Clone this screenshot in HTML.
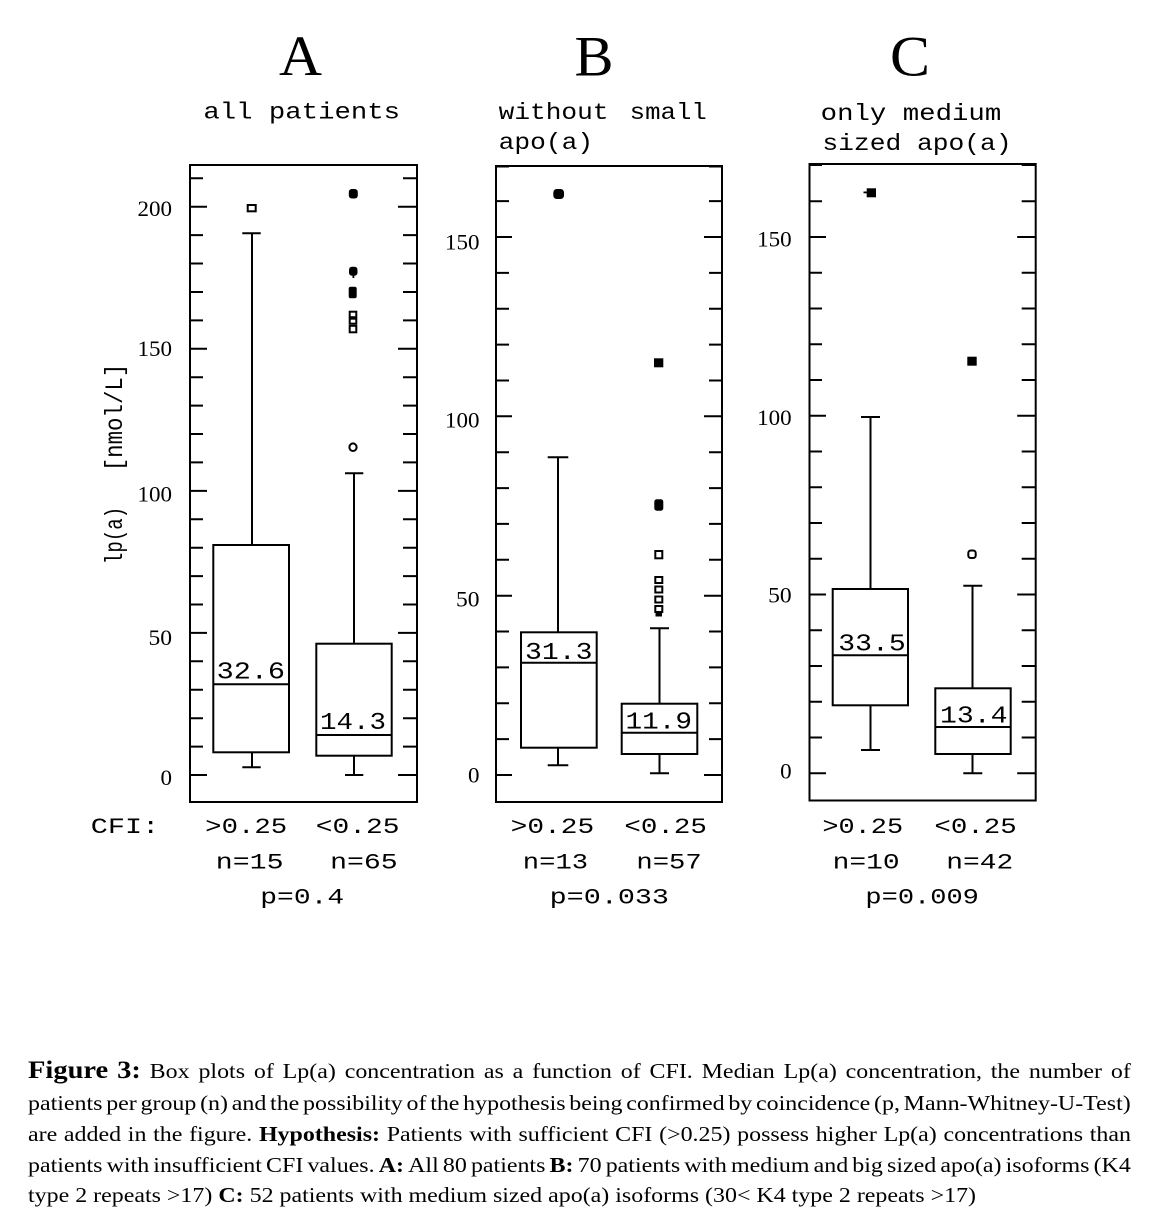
<!DOCTYPE html>
<html>
<head>
<meta charset="utf-8">
<style>
html,body{margin:0;padding:0;background:#fff;}
body{width:1164px;height:1228px;position:relative;overflow:hidden;}
svg{position:absolute;left:0;top:0;}
.mono{font-family:"Liberation Mono","DejaVu Sans Mono",monospace;fill:#000;}
.ser{font-family:"Liberation Serif","DejaVu Serif",serif;fill:#000;}
.ln{position:absolute;left:28px;width:967.5px;display:flex;justify-content:space-between;align-items:baseline;transform:scaleX(1.14);transform-origin:0 0;font-family:"Liberation Serif","DejaVu Serif",serif;font-size:21px;line-height:24px;white-space:nowrap;color:#000;}
.ln span{display:block;}
.ln .b{font-weight:bold;}
.ln .fig{font-weight:bold;font-size:25px;}
.l5{position:absolute;left:28px;transform:scaleX(1.14);transform-origin:0 0;font-family:"Liberation Serif","DejaVu Serif",serif;font-size:21px;line-height:24px;white-space:nowrap;color:#000;}
</style>
</head>
<body>
<svg width="1164" height="1228" viewBox="0 0 1164 1228" xmlns="http://www.w3.org/2000/svg">
<g fill="none" stroke="#000" stroke-width="2">
  <rect x="190" y="165" width="227" height="637"/>
  <rect x="496" y="166" width="226" height="636"/>
  <rect x="809.5" y="164" width="226.2" height="636.5"/>
  <path d="M190 775h17M190 746.6h13M190 718.2h13M190 689.8h13M190 661.3h13M190 632.9h17M190 604.5h13M190 576.1h13M190 547.7h13M190 519.3h13M190 490.9h17M190 462.4h13M190 434h13M190 405.6h13M190 377.2h13M190 348.8h17M190 320.4h13M190 292h13M190 263.5h13M190 235.1h13M190 206.7h17M190 178.3h13"/>
  <path d="M417 775h-19M417 746.6h-14M417 718.2h-14M417 689.8h-14M417 661.3h-14M417 632.9h-19M417 604.5h-14M417 576.1h-14M417 547.7h-14M417 519.3h-14M417 490.9h-19M417 462.4h-14M417 434h-14M417 405.6h-14M417 377.2h-14M417 348.8h-19M417 320.4h-14M417 292h-14M417 263.5h-14M417 235.1h-14M417 206.7h-19M417 178.3h-14"/>
  <path d="M496 775h16M496 739.1h13M496 703.3h13M496 667.4h13M496 631.5h13M496 595.7h16M496 559.8h13M496 523.9h13M496 488.1h13M496 452.2h13M496 416.3h16M496 380.5h13M496 344.6h13M496 308.7h13M496 272.9h13M496 237h16M496 201.1h13M496 166.5h13"/>
  <path d="M722 775h-18M722 739.1h-13M722 703.3h-13M722 667.4h-13M722 631.5h-13M722 595.7h-18M722 559.8h-13M722 523.9h-13M722 488.1h-13M722 452.2h-13M722 416.3h-18M722 380.5h-13M722 344.6h-13M722 308.7h-13M722 272.9h-13M722 237h-18M722 201.1h-13M722 166.5h-13"/>
  <path d="M809.5 773.3h16.5M809.5 737.5h12.5M809.5 701.8h12.5M809.5 666h12.5M809.5 630.3h12.5M809.5 594.5h16.5M809.5 558.8h12.5M809.5 523h12.5M809.5 487.3h12.5M809.5 451.5h12.5M809.5 415.8h16.5M809.5 380h12.5M809.5 344.3h12.5M809.5 308.5h12.5M809.5 272.8h12.5M809.5 237h16.5M809.5 201.3h12.5M809.5 165h12.5"/>
  <path d="M1035.7 773.3h-18.5M1035.7 737.5h-14M1035.7 701.8h-14M1035.7 666h-14M1035.7 630.3h-14M1035.7 594.5h-18.5M1035.7 558.8h-14M1035.7 523h-14M1035.7 487.3h-14M1035.7 451.5h-14M1035.7 415.8h-18.5M1035.7 380h-14M1035.7 344.3h-14M1035.7 308.5h-14M1035.7 272.8h-14M1035.7 237h-18.5M1035.7 201.3h-14M1035.7 165h-14"/>

  <rect x="213.3" y="545" width="75.7" height="207.3"/>
  <path d="M213.3 684.3H289M252 545V233.3M242.3 233.3H260.7M252 752.3V767.3M242.3 767.3H260.7"/>
  <rect x="316.3" y="643.7" width="75.4" height="112"/>
  <path d="M316.3 735H391.7M354 643.7V473.3M345 473.3H363.3M354 755.7V775M345 775H363.3"/>
  <rect x="521" y="632.3" width="75.7" height="115.4"/>
  <path d="M521 662.7H596.7M558 632.3V457.3M547.7 457.3H568.3M558 747.7V765.3M547.7 765.3H568.3"/>
  <rect x="621.7" y="703.7" width="75.6" height="50.3"/>
  <path d="M621.7 732.7H697.3M659.5 703.7V628.3M650 628.3H669M659.5 754V773.3M650 773.3H669"/>
  <rect x="832.7" y="589" width="75.3" height="116.3"/>
  <path d="M832.7 655.3H908M870.5 589V417M861 417H880M870.5 705.3V750M861 750H880"/>
  <rect x="935.3" y="688.3" width="75.4" height="65.7"/>
  <path d="M935.3 727H1010.7M972.5 688.3V585.7M963.3 585.7H982.3M972.5 754V773.3M963.3 773.3H982.3"/>

  <rect x="247.7" y="205" width="8" height="6.3"/>
  <rect x="349.7" y="311.7" width="6.6" height="5.5"/>
  <rect x="349.7" y="318.7" width="6.6" height="5"/>
  <rect x="349.7" y="325.8" width="6.6" height="6.5"/>
  <ellipse cx="353" cy="447.2" rx="3.6" ry="3.8"/>
  <rect x="655.3" y="551" width="7" height="7.3"/>
  <rect x="655.3" y="577" width="7" height="6"/>
  <rect x="655.3" y="586.5" width="7" height="6"/>
  <rect x="655.3" y="596.5" width="7" height="6"/>
  <rect x="655.3" y="606" width="7" height="6"/>
  <rect x="968.3" y="550.5" width="7.4" height="7.5" rx="2.5"/>
</g>
<g fill="#000">
  <rect x="348.8" y="189" width="9" height="9.5" rx="3"/>
  <rect x="349" y="266.8" width="8.5" height="9" rx="3"/>
  <rect x="352.5" y="275" width="1.8" height="3"/>
  <rect x="348.7" y="286.7" width="8" height="11.6" rx="2"/>
  <rect x="553.3" y="189" width="10.7" height="10" rx="3.5"/>
  <rect x="654" y="358.3" width="9.3" height="9"/>
  <rect x="654.3" y="499.3" width="9" height="11.4" rx="2.5"/>
  <rect x="655.5" y="611" width="6.5" height="5.5"/>
  <rect x="866.7" y="188.3" width="9.3" height="9"/>
  <rect x="863.5" y="191.5" width="4" height="1.8"/>
  <rect x="967.3" y="356.7" width="9.4" height="9"/>
</g>

<text class="ser" x="279" y="75" font-size="57" textLength="43" lengthAdjust="spacingAndGlyphs">A</text>
<text class="ser" x="574.5" y="75.5" font-size="57" textLength="39" lengthAdjust="spacingAndGlyphs">B</text>
<text class="ser" x="890" y="75.5" font-size="57" textLength="40" lengthAdjust="spacingAndGlyphs">C</text>

<text class="mono" x="203.4" y="118.5" font-size="23.5" textLength="196.6" lengthAdjust="spacingAndGlyphs">all patients</text>
<text class="mono" x="498.7" y="119" font-size="23.5" textLength="109.8" lengthAdjust="spacingAndGlyphs">without</text>
<text class="mono" x="629.7" y="119" font-size="23.5" textLength="77.1" lengthAdjust="spacingAndGlyphs">small</text>
<text class="mono" x="498.7" y="149" font-size="23.5" textLength="94.4" lengthAdjust="spacingAndGlyphs">apo(a)</text>
<text class="mono" x="820.7" y="120" font-size="23.5" textLength="180.6" lengthAdjust="spacingAndGlyphs">only medium</text>
<text class="mono" x="822.4" y="150" font-size="23.5" textLength="189.2" lengthAdjust="spacingAndGlyphs">sized apo(a)</text>

<text class="mono" transform="translate(122,564.1) rotate(-90)" x="0" y="0" font-size="25" textLength="57.3" lengthAdjust="spacingAndGlyphs">lp(a)</text>
<text class="mono" transform="translate(122,471.3) rotate(-90)" x="0" y="0" font-size="25" textLength="107.6" lengthAdjust="spacingAndGlyphs">[nmol/L]</text>

<g class="ser" font-size="22">
  <text x="137.5" y="216" textLength="34.5" lengthAdjust="spacingAndGlyphs">200</text>
  <text x="137.5" y="356" textLength="34.5" lengthAdjust="spacingAndGlyphs">150</text>
  <text x="137.5" y="501.5" textLength="34.5" lengthAdjust="spacingAndGlyphs">100</text>
  <text x="148.5" y="645" textLength="23.5" lengthAdjust="spacingAndGlyphs">50</text>
  <text x="160.5" y="785" textLength="11.5" lengthAdjust="spacingAndGlyphs">0</text>

  <text x="445" y="249.3" textLength="34.5" lengthAdjust="spacingAndGlyphs">150</text>
  <text x="445" y="427.7" textLength="34.5" lengthAdjust="spacingAndGlyphs">100</text>
  <text x="456" y="606.7" textLength="23.5" lengthAdjust="spacingAndGlyphs">50</text>
  <text x="468" y="782.7" textLength="11.5" lengthAdjust="spacingAndGlyphs">0</text>

  <text x="757.2" y="246.7" textLength="34.5" lengthAdjust="spacingAndGlyphs">150</text>
  <text x="757.2" y="425" textLength="34.5" lengthAdjust="spacingAndGlyphs">100</text>
  <text x="768.2" y="602.3" textLength="23.5" lengthAdjust="spacingAndGlyphs">50</text>
  <text x="780.2" y="778.3" textLength="11.5" lengthAdjust="spacingAndGlyphs">0</text>
</g>

<g class="mono" font-size="24">
  <text x="216.6" y="678.3" textLength="68.4" lengthAdjust="spacingAndGlyphs">32.6</text>
  <text x="320" y="729" textLength="66" lengthAdjust="spacingAndGlyphs">14.3</text>
  <text x="525" y="659" textLength="67.5" lengthAdjust="spacingAndGlyphs">31.3</text>
  <text x="625.5" y="728.3" textLength="66.5" lengthAdjust="spacingAndGlyphs">11.9</text>
  <text x="838.3" y="650.7" textLength="67.4" lengthAdjust="spacingAndGlyphs">33.5</text>
  <text x="940" y="722.3" textLength="67.5" lengthAdjust="spacingAndGlyphs">13.4</text>
</g>

<g class="mono" font-size="22">
  <text x="90.8" y="833" textLength="68.4" lengthAdjust="spacingAndGlyphs">CFI:</text>
  <text x="205.2" y="833" textLength="81.9" lengthAdjust="spacingAndGlyphs">&gt;0.25</text>
  <text x="315.8" y="833" textLength="83.7" lengthAdjust="spacingAndGlyphs">&lt;0.25</text>
  <text x="215.8" y="868.5" textLength="67.7" lengthAdjust="spacingAndGlyphs">n=15</text>
  <text x="330.1" y="868.5" textLength="67.6" lengthAdjust="spacingAndGlyphs">n=65</text>
  <text x="260.3" y="903.5" textLength="83.8" lengthAdjust="spacingAndGlyphs">p=0.4</text>

  <text x="510.7" y="833" textLength="83.5" lengthAdjust="spacingAndGlyphs">&gt;0.25</text>
  <text x="624.4" y="833" textLength="82.5" lengthAdjust="spacingAndGlyphs">&lt;0.25</text>
  <text x="522.8" y="868.5" textLength="65.3" lengthAdjust="spacingAndGlyphs">n=13</text>
  <text x="636.4" y="868.5" textLength="65.3" lengthAdjust="spacingAndGlyphs">n=57</text>
  <text x="549.6" y="903.5" textLength="119.4" lengthAdjust="spacingAndGlyphs">p=0.033</text>

  <text x="822.4" y="833" textLength="80.7" lengthAdjust="spacingAndGlyphs">&gt;0.25</text>
  <text x="934.4" y="833" textLength="82.3" lengthAdjust="spacingAndGlyphs">&lt;0.25</text>
  <text x="832.7" y="868.5" textLength="67" lengthAdjust="spacingAndGlyphs">n=10</text>
  <text x="946.3" y="868.5" textLength="67" lengthAdjust="spacingAndGlyphs">n=42</text>
  <text x="865.4" y="903.5" textLength="113.5" lengthAdjust="spacingAndGlyphs">p=0.009</text>
</g>
</svg>

<div class="ln" style="top:1059.2px"><span class="fig">Figure</span><span class="fig">3:</span><span>Box</span><span>plots</span><span>of</span><span>Lp(a)</span><span>concentration</span><span>as</span><span>a</span><span>function</span><span>of</span><span>CFI.</span><span>Median</span><span>Lp(a)</span><span>concentration,</span><span>the</span><span>number</span><span>of</span></div>
<div class="ln" style="top:1090.9px"><span>patients</span><span>per</span><span>group</span><span>(n)</span><span>and</span><span>the</span><span>possibility</span><span>of</span><span>the</span><span>hypothesis</span><span>being</span><span>confirmed</span><span>by</span><span>coincidence</span><span>(p,</span><span>Mann-Whitney-U-Test)</span></div>
<div class="ln" style="top:1121.5px"><span>are</span><span>added</span><span>in</span><span>the</span><span>figure.</span><span class="b">Hypothesis:</span><span>Patients</span><span>with</span><span>sufficient</span><span>CFI</span><span>(&gt;0.25)</span><span>possess</span><span>higher</span><span>Lp(a)</span><span>concentrations</span><span>than</span></div>
<div class="ln" style="top:1152.9px"><span>patients</span><span>with</span><span>insufficient</span><span>CFI</span><span>values.</span><span class="b">A:</span><span>All</span><span>80</span><span>patients</span><span class="b">B:</span><span>70</span><span>patients</span><span>with</span><span>medium</span><span>and</span><span>big</span><span>sized</span><span>apo(a)</span><span>isoforms</span><span>(K4</span></div>
<div class="l5" style="top:1182.6px">type 2 repeats &gt;17) <b>C:</b> 52 patients with medium sized apo(a) isoforms (30&lt; K4 type 2 repeats &gt;17)</div>
</body>
</html>
